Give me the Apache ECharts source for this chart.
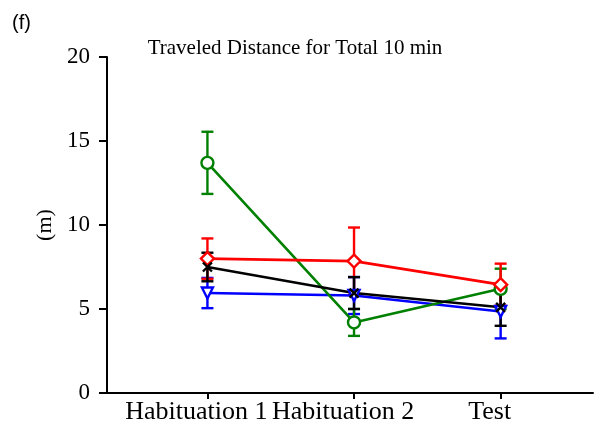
<!DOCTYPE html>
<html>
<head>
<meta charset="utf-8">
<script src="https://cdn.jsdelivr.net/npm/echarts@6/dist/echarts.min.js"></script>
<style>
  html, body { margin: 0; padding: 0; background: #fff; }
  #chart { width: 594px; height: 431px; }
</style>
</head>
<body>
<div id="chart"></div>
<script>
const categories = ['Habituation 1', 'Habituation 2', 'Test'];
const yTicks = [0, 5, 10, 15, 20];

const greenMean = [13.7, 4.2, 6.2];
const greenErr = [1.85, 0.8, 1.2];
const redMean = [8.0, 7.85, 6.45];
const redErr = [1.2, 2.0, 1.25];
const blackMean = [7.5, 5.95, 5.1];
const blackErr = [0.85, 0.95, 1.1];
const blueMean = [5.95, 5.8, 4.85];
const blueErr = [0.9, 1.1, 1.6];

const FONT = 'Liberation Serif';

const crossPath = 'path://M0,0L10,10M10,0L0,10';

function errorSeries(color, mean, err) {
  return {
    type: 'custom',
    silent: true,
    z: 2,
    data: mean.map((m, i) => [i, m - err[i], m + err[i]]),
    renderItem(params, api) {
      const x = api.value(0);
      const lo = api.coord([x, api.value(1)]);
      const hi = api.coord([x, api.value(2)]);
      const w = 6;
      const style = { stroke: color, lineWidth: 2.4 };
      return {
        type: 'group',
        children: [
          { type: 'line', shape: { x1: lo[0], y1: lo[1], x2: hi[0], y2: hi[1] }, style },
          { type: 'line', shape: { x1: lo[0] - w, y1: lo[1], x2: lo[0] + w, y2: lo[1] }, style },
          { type: 'line', shape: { x1: hi[0] - w, y1: hi[1], x2: hi[0] + w, y2: hi[1] }, style }
        ]
      };
    }
  };
}

function lineSeries(color, mean, symbol, size, rotate) {
  return {
    type: 'line',
    data: mean.map((m, i) => [i, m]),
    symbol: symbol,
    symbolSize: size,
    symbolRotate: rotate || 0,
    showAllSymbol: true,
    z: 3,
    lineStyle: { color: color, width: 2.6 },
    itemStyle: { color: symbol === crossPath ? color : '#fff', borderColor: color, borderWidth: 2.4 },
    emphasis: { disabled: true }
  };
}

const chart = echarts.init(document.getElementById('chart'));
chart.setOption({
  animation: false,
  backgroundColor: '#fff',
  title: [
    {
      text: 'Traveled Distance for Total 10 min',
      left: 290, top: 33, textAlign: 'center',
      textStyle: { fontFamily: FONT, fontSize: 21, fontWeight: 'normal', color: '#000' }
    },
    {
      text: '(f)', left: 7, top: 8,
      textStyle: { fontFamily: 'Liberation Sans', fontSize: 20, fontWeight: 'normal', color: '#000' }
    }
  ],
  grid: { left: 107, right: 1, top: 57, bottom: 38 },
  xAxis: {
    type: 'value',
    min: -0.685,
    max: 2.63,
    splitLine: { show: false },
    axisLine: { lineStyle: { color: '#000', width: 2 } },
    axisTick: { customValues: [0, 1, 2], length: 6, lineStyle: { color: '#000', width: 2 } },
    axisLabel: {
      customValues: [0, 1, 2],
      formatter: v => categories[Math.round(v)],
      fontFamily: FONT, fontSize: 26, color: '#000', margin: 6,
      padding: [0, 22, 0, 0]
    }
  },
  yAxis: {
    type: 'value',
    min: 0, max: 20, interval: 5,
    name: '(m)',
    nameLocation: 'middle',
    nameGap: 45,
    nameRotate: 90,
    nameTextStyle: { fontFamily: FONT, fontSize: 22, color: '#000' },
    splitLine: { show: false },
    axisLine: { show: true, onZero: false, lineStyle: { color: '#000', width: 2 } },
    axisTick: { show: true, length: 8, lineStyle: { color: '#000', width: 2 } },
    axisLabel: {
      customValues: yTicks,
      fontFamily: FONT, fontSize: 23, color: '#000', margin: 17
    }
  },
  series: [
    errorSeries('#0000ff', blueMean, blueErr),
    lineSeries('#0000ff', blueMean, 'triangle', 11, 180),
    errorSeries('#008000', greenMean, greenErr),
    lineSeries('#008000', greenMean, 'circle', 12),
    errorSeries('#ff0000', redMean, redErr),
    lineSeries('#ff0000', redMean, 'diamond', 13),
    errorSeries('#000000', blackMean, blackErr),
    lineSeries('#000000', blackMean, crossPath, 9)
  ]
});
</script>
</body>
</html>
